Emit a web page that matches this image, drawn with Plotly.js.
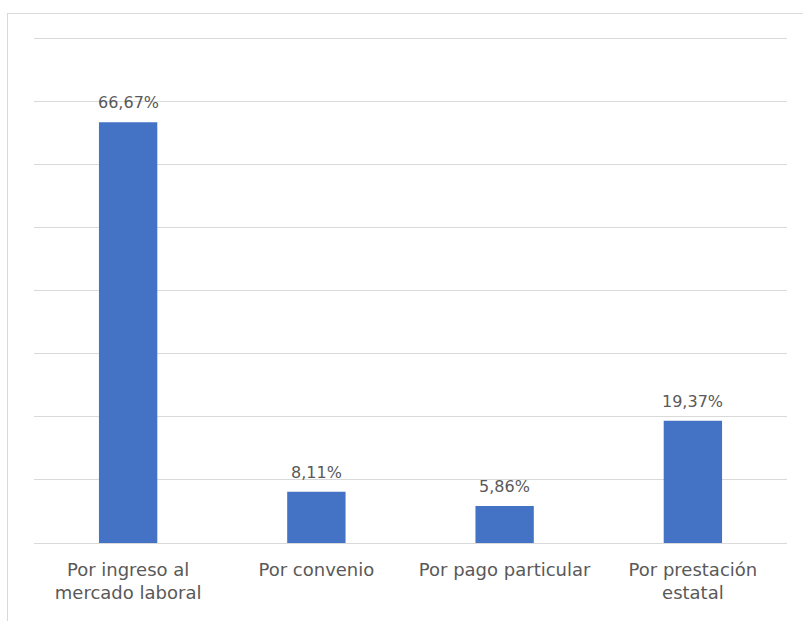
<!DOCTYPE html>
<html>
<head>
<meta charset="utf-8">
<script src="https://cdn.plot.ly/plotly-3.0.1.min.js"></script>
<style>
  html, body { margin: 0; padding: 0; background: #fff; }
  #wrap { position: relative; width: 803px; height: 621px; }
  #chart { width: 803px; height: 621px; }
  #frame { position: absolute; left: 7px; top: 13px; right: -2px; bottom: -2px;
           border-left: 1.5px solid #d9d9d9; border-top: 1.5px solid #d9d9d9; pointer-events: none; }
</style>
</head>
<body>
<div id="wrap">
  <div id="chart"></div>
  <div id="frame"></div>
</div>
<script>
const categories = [
  "Por ingreso al<br>mercado laboral",
  "Por convenio",
  "Por pago particular",
  "Por prestación<br>estatal"
];
const values = [66.67, 8.11, 5.86, 19.37];

const fontFamily = "'DejaVu Sans', sans-serif";
const textColor = "#595959";

const labels = values.map(v => v.toFixed(2).replace('.', ',') + '%');

const trace = {
  type: 'bar',
  x: categories,
  y: values,
  marker: { color: '#4472C4' },
  hoverinfo: 'skip'
};

const annotations = values.map((v, i) => ({
  x: categories[i],
  y: v,
  xref: 'x',
  yref: 'y',
  text: labels[i],
  showarrow: false,
  yanchor: 'bottom',
  yshift: 8,
  font: { family: fontFamily, size: 16, color: textColor }
}));

const layout = {
  width: 803,
  height: 621,
  margin: { l: 34, r: 16, t: 35, b: 78 },
  paper_bgcolor: 'rgba(0,0,0,0)',
  plot_bgcolor: '#ffffff',
  showlegend: false,
  bargap: 0.69,
  xaxis: {
    type: 'category',
    showgrid: false,
    showline: true,
    linecolor: '#d9d9d9',
    linewidth: 1,
    ticks: '',
    ticklabelstandoff: 10,
    tickfont: { family: fontFamily, size: 18, color: textColor },
    fixedrange: true
  },
  yaxis: {
    range: [0, 80.5],
    dtick: 10,
    showgrid: true,
    gridcolor: '#d9d9d9',
    gridwidth: 1,
    zeroline: false,
    showticklabels: false,
    ticks: '',
    fixedrange: true
  },
  annotations: annotations
};

Plotly.newPlot('chart', [trace], layout, { displayModeBar: false, staticPlot: true });
</script>
</body>
</html>
